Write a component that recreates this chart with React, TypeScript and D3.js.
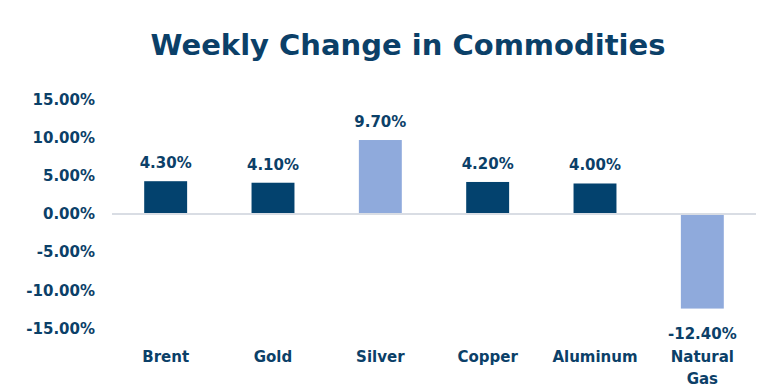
import React, { useEffect, useRef } from 'react';
import * as d3 from 'd3';

const categories = ['Brent', 'Gold', 'Silver', 'Copper', 'Aluminum', 'Natural Gas'];
const changes = [4.3, 4.1, 9.7, 4.2, 4.0, -12.4];
const highlighted = [false, false, true, false, false, true];
const yTicks = [-15, -10, -5, 0, 5, 10, 15];

const DARK = '#03426e';
const LIGHT = '#8faadc';
const TEXT = '#0b4068';
const FONT = '"DejaVu Sans", sans-serif';

export default function App() {
    const svgRef = useRef<SVGSVGElement>(null);

    useEffect(() => {
        document.body.style.margin = '0';
        if (!svgRef.current) return;

        const width = 768;
        const height = 392;

        const svg = d3.select(svgRef.current)
            .attr('width', width)
            .attr('height', height)
            .style('background', '#fff')
            .style('display', 'block');

        svg.selectAll('*').remove();

        const x = d3.scaleBand<string>()
            .domain(categories)
            .range([112, 756])
            .paddingInner(0.6)
            .paddingOuter(0.3);

        const y = d3.scaleLinear()
            .domain([-15, 15])
            .range([328.4, 99.6]);

        // Title
        svg.append('text')
            .attr('x', 408)
            .attr('y', 55)
            .attr('text-anchor', 'middle')
            .attr('font-family', FONT)
            .attr('font-weight', 'bold')
            .attr('font-size', 29)
            .attr('fill', TEXT)
            .text('Weekly Change in Commodities');

        // Y axis labels (no line)
        const yAxis = svg.append('g')
            .attr('transform', 'translate(95,0)')
            .call(d3.axisLeft(y).tickValues(yTicks).tickSize(0).tickPadding(0)
                .tickFormat(d => `${(+d).toFixed(2)}%`));
        yAxis.select('.domain').remove();
        yAxis.selectAll('text')
            .attr('font-family', FONT)
            .attr('font-weight', 'bold')
            .attr('font-size', 15)
            .attr('fill', TEXT);

        // Bars
        svg.selectAll('rect.bar')
            .data(changes)
            .enter()
            .append('rect')
            .attr('class', 'bar')
            .attr('x', (d, i) => x(categories[i])!)
            .attr('width', x.bandwidth())
            .attr('y', d => y(Math.max(0, d)))
            .attr('height', d => Math.abs(y(d) - y(0)))
            .attr('fill', (d, i) => highlighted[i] ? LIGHT : DARK);

        // Zero line
        svg.append('line')
            .attr('x1', 112)
            .attr('x2', 756)
            .attr('y1', y(0))
            .attr('y2', y(0))
            .attr('stroke', '#d9dde4')
            .attr('stroke-width', 2);

        // Value labels
        svg.selectAll('text.value')
            .data(changes)
            .enter()
            .append('text')
            .attr('class', 'value')
            .attr('x', (d, i) => x(categories[i])! + x.bandwidth() / 2)
            .attr('y', d => d >= 0 ? y(d) - 13 : y(d) + 30)
            .attr('text-anchor', 'middle')
            .attr('font-family', FONT)
            .attr('font-weight', 'bold')
            .attr('font-size', 15)
            .attr('fill', TEXT)
            .text(d => `${d.toFixed(2)}%`);

        // Category labels
        const cat = svg.selectAll('text.cat')
            .data(categories)
            .enter()
            .append('text')
            .attr('class', 'cat')
            .attr('x', d => x(d)! + x.bandwidth() / 2)
            .attr('y', 362)
            .attr('text-anchor', 'middle')
            .attr('font-family', FONT)
            .attr('font-weight', 'bold')
            .attr('font-size', 15)
            .attr('fill', TEXT);

        cat.each(function (d) {
            const words = d.split(' ');
            const t = d3.select(this);
            words.forEach((w, j) => {
                t.append('tspan')
                    .attr('x', x(d)! + x.bandwidth() / 2)
                    .attr('dy', j === 0 ? 0 : 22)
                    .text(w);
            });
        });
    }, []);

    return <svg ref={svgRef}></svg>;
}
